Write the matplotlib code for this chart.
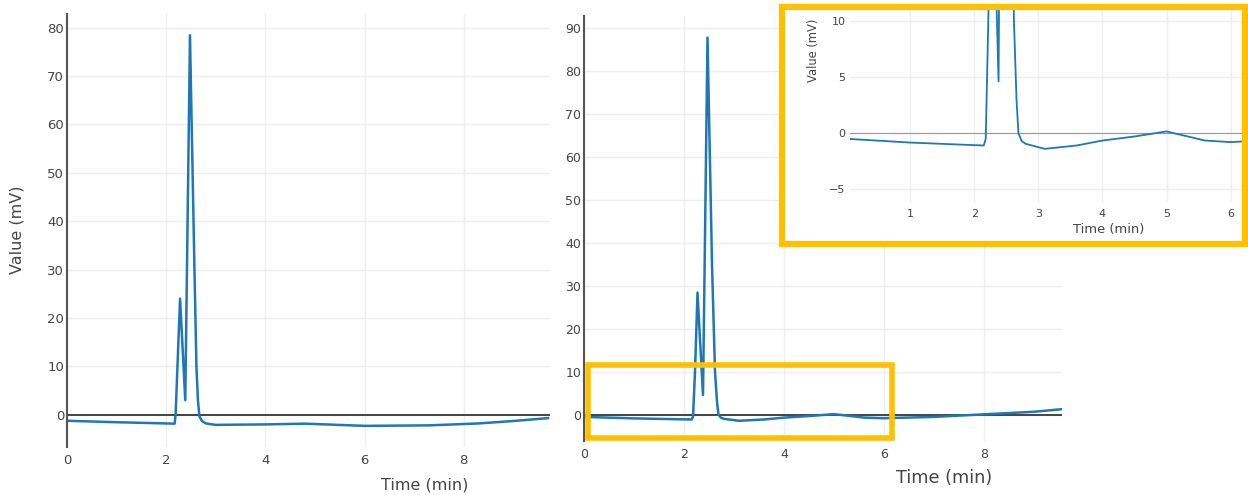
import matplotlib
matplotlib.use('Agg')
import matplotlib.pyplot as plt
from matplotlib.patches import Rectangle

W, H = 1248, 495

# corrida 1 (grafico da esquerda)
t1 = [0, 1, 2, 2.17, 2.19, 2.28, 2.385, 2.48, 2.57, 2.61, 2.64, 2.67, 2.72,
      2.8, 3.0, 4.0, 4.8, 6.0, 7.3, 8.3, 9.0, 9.7]
v1 = [-1.25, -1.55, -1.8, -1.85, 0, 24, 3, 78.4, 30, 10, 3, -0.3, -1.3,
      -1.8, -2.1, -2.0, -1.85, -2.3, -2.2, -1.8, -1.3, -0.7]

# corrida 2 (grafico do meio e zoom)
t2 = [0, 1, 2, 2.15, 2.18, 2.22, 2.27, 2.38, 2.47, 2.56, 2.62, 2.66, 2.69,
      2.74, 2.8, 3.1, 3.6, 4.0, 4.5, 5.0, 5.6, 6.0, 7.0, 8.0, 9.0, 9.56]
v2 = [-0.5, -0.84, -1.07, -1.1, -0.5, 10, 28.4, 4.6, 87.7, 35, 10, 3, 0,
      -0.7, -0.95, -1.4, -1.1, -0.66, -0.3, 0.15, -0.66, -0.8, -0.5, 0.1, 0.7, 1.3]

xticks_main = [0, 2, 4, 6, 8]
yticks_left = list(range(0, 90, 10))
yticks_mid = list(range(0, 100, 10))
xticks_zoom = [1, 2, 3, 4, 5, 6]
yticks_zoom = [-5, 0, 5, 10]

LINE = '#1f77b4'
TXT = '#444444'
AMARELO = '#FFC000'
FONTE = 'DejaVu Sans'


def caixa(l, t, r, b):
    # pixels -> fracao da figura
    return [l / W, 1 - b / H, (r - l) / W, (b - t) / H]


def estilo(ax, xt, yt, tam, zero_cor, zero_lw, eixo_esq=True):
    for s in ['top', 'right', 'bottom']:
        ax.spines[s].set_visible(False)
    if eixo_esq:
        ax.spines['left'].set_color('#555555')
        ax.spines['left'].set_linewidth(1.5)
    else:
        ax.spines['left'].set_visible(False)
    ax.set_xticks(xt)
    ax.set_yticks(yt)
    ax.tick_params(length=0, labelsize=tam, labelcolor=TXT, pad=2)
    ax.tick_params(axis='x', pad=5)
    for lab in ax.get_xticklabels() + ax.get_yticklabels():
        lab.set_family(FONTE)
    ax.grid(color='#eeeeee', linewidth=1)
    ax.set_axisbelow(True)
    ax.axhline(0, color=zero_cor, linewidth=zero_lw, zorder=1)


fig = plt.figure(figsize=(W / 100, H / 100), dpi=100)

ax1 = fig.add_axes(caixa(67, 14, 550, 447))
ax1.plot(t1, v1, color=LINE, linewidth=1.8, zorder=2)
ax1.set_xlim(0, 9.74)
ax1.set_ylim(-6.67, 82.8)
estilo(ax1, xticks_main, yticks_left, 9.5, '#444444', 1.4)
fig.text(425 / W, 1 - 485 / H, 'Time (min)', ha='center', va='center',
         fontsize=11.5, color=TXT, family=FONTE)
fig.text(17.5 / W, 1 - 230 / H, 'Value (mV)', ha='center', va='center',
         rotation=90, fontsize=11.5, color=TXT, family=FONTE)

ax2 = fig.add_axes(caixa(584, 16, 1062, 441))
ax2.plot(t2, v2, color=LINE, linewidth=1.8, zorder=2)
ax2.set_xlim(0, 9.56)
ax2.set_ylim(-6.1, 92.7)
estilo(ax2, xticks_main, yticks_mid, 9, '#444444', 1.4)
fig.text(944 / W, 1 - 478 / H, 'Time (min)', ha='center', va='center',
         fontsize=12.7, color=TXT, family=FONTE)

# caixa amarela no grafico do meio
l, b, w, h = caixa(588, 365, 891.5, 438)
fig.patches.append(Rectangle((l, b), w, h, transform=fig.transFigure,
                             fill=False, edgecolor=AMARELO, linewidth=4, zorder=5))

# fundo branco do zoom
l, b, w, h = caixa(779, 4, 1248, 247)
fig.patches.append(Rectangle((l, b), w, h, transform=fig.transFigure,
                             facecolor='white', edgecolor='none', zorder=2))

ax3 = fig.add_axes(caixa(849.7, 8.3, 1246, 201.7))
ax3.set_zorder(3)
ax3.plot(t2, v2, color=LINE, linewidth=1.3, zorder=2)
ax3.set_xlim(0.058, 6.24)
ax3.set_ylim(-6.1, 11.1)
estilo(ax3, xticks_zoom, yticks_zoom, 8, '#999999', 0.8, eixo_esq=False)
ax3.tick_params(axis='x', pad=5)
ax3.tick_params(axis='y', pad=3)
t = fig.text(1108.5 / W, 1 - 230 / H, 'Time (min)', ha='center', va='center',
             fontsize=9.4, color=TXT, family=FONTE)
t.set_zorder(4)
t = fig.text(813 / W, 1 - 50 / H, 'Value (mV)', ha='center', va='center',
             rotation=90, fontsize=8.3, color=TXT, family=FONTE)
t.set_zorder(4)

# moldura amarela do zoom
l, b, w, h = caixa(781.5, 6.5, 1245, 244)
fig.patches.append(Rectangle((l, b), w, h, transform=fig.transFigure,
                             fill=False, edgecolor=AMARELO, linewidth=4.5, zorder=6))

fig.savefig('out.png', dpi=100)
